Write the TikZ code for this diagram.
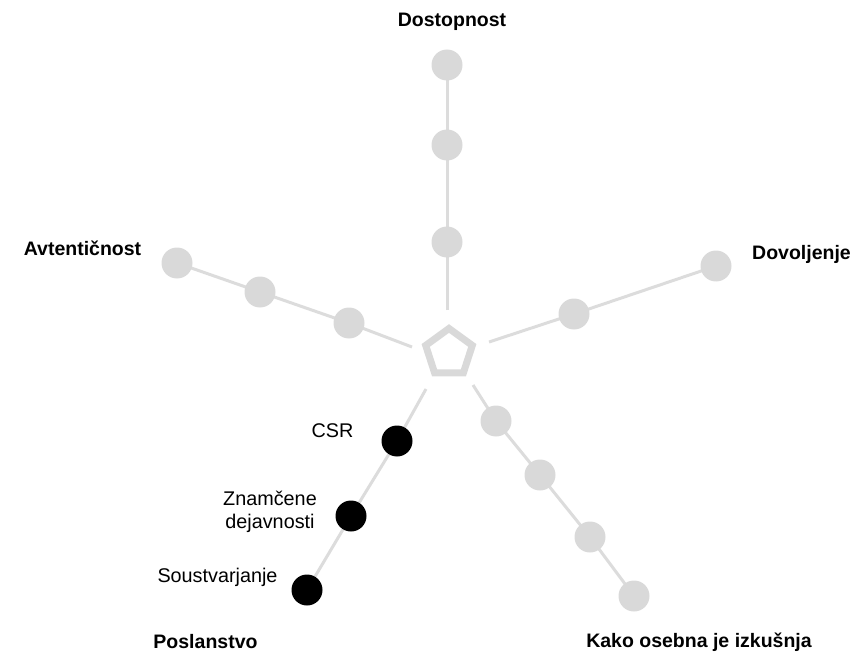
\documentclass[tikz,border=0pt]{standalone}
\usepackage{fontspec}
\setmainfont{Liberation Sans}
\usetikzlibrary{shapes.geometric,backgrounds}

\definecolor{dotgray}{HTML}{D9D9D9}
\definecolor{linegray}{HTML}{DCDCDC}

\tikzset{
  spoke/.style={draw=linegray, line width=3},
  dot/.style={circle, fill=dotgray, minimum size=31, inner sep=0},
  hit/.style={circle, fill=black, minimum size=31, inner sep=0},
  axis/.style={font=\fontsize{19.5}{22}\selectfont\bfseries, text=black, inner sep=0},
  item/.style={font=\fontsize{19.8}{23}\selectfont, text=black, inner sep=0, align=center},
}

\begin{document}
\begin{tikzpicture}[x=1pt,y=-1pt]
  \useasboundingbox (0,0) rectangle (868,666);

  % hub
  \node[regular polygon, regular polygon sides=5, draw=dotgray, line width=7,
        minimum size=49, inner sep=0] (hub) at (449,353) {};

  % spoke ends next to the hub
  \coordinate (tS) at (447,310);
  \coordinate (lS) at (412,347);
  \coordinate (rS) at (489,342);
  \coordinate (brS) at (473,385);
  \coordinate (blS) at (426,389);

  % Dostopnost
  \node[dot] (t1) at (447,242) {};
  \node[dot] (t2) at (447,145) {};
  \node[dot] (t3) at (447,65) {};
  % Avtenticnost
  \node[dot] (l1) at (349,323) {};
  \node[dot] (l2) at (260,292) {};
  \node[dot] (l3) at (177,263) {};
  % Dovoljenje
  \node[dot] (r1) at (574,314) {};
  \node[dot] (r2) at (716,266) {};
  % Kako osebna je izkusnja
  \node[dot] (b1) at (496,421) {};
  \node[dot] (b2) at (540,475) {};
  \node[dot] (b3) at (590,537) {};
  \node[dot] (b4) at (634,596) {};
  % Poslanstvo
  \node[hit] (p1) at (397,441) {};
  \node[hit] (p2) at (351,516) {};
  \node[hit] (p3) at (307,590) {};

  \begin{scope}[on background layer]
    \draw[spoke] (tS) -- (t1.center) -- (t2.center) -- (t3.center);
    \draw[spoke] (lS) -- (l1.center) -- (l2.center) -- (l3.center);
    \draw[spoke] (rS) -- (r1.center) -- (r2.center);
    \draw[spoke] (brS) -- (b1.center) -- (b2.center) -- (b3.center) -- (b4.center);
    \draw[spoke] (blS) -- (p1.center) -- (p2.center) -- (p3.center);
  \end{scope}

  % axis titles
  \node[axis] (tDost) at (452,22) {Dostopnost};
  \node[axis] (tAvt) at (82.5,248) {Avtentičnost};
  \node[axis] (tDov) at (801.5,254) {Dovoljenje};
  \node[axis] (tPos) at (205.5,642) {Poslanstvo};
  \node[axis] (tKako) at (699,642) {Kako osebna je izkušnja};

  % item labels
  \node[item] (iCSR) at (332.5,431) {CSR};
  \node[item] (iZn) at (270,512) {Znamčene\\dejavnosti};
  \node[item] (iSou) at (217.5,577) {Soustvarjanje};
\end{tikzpicture}
\end{document}
